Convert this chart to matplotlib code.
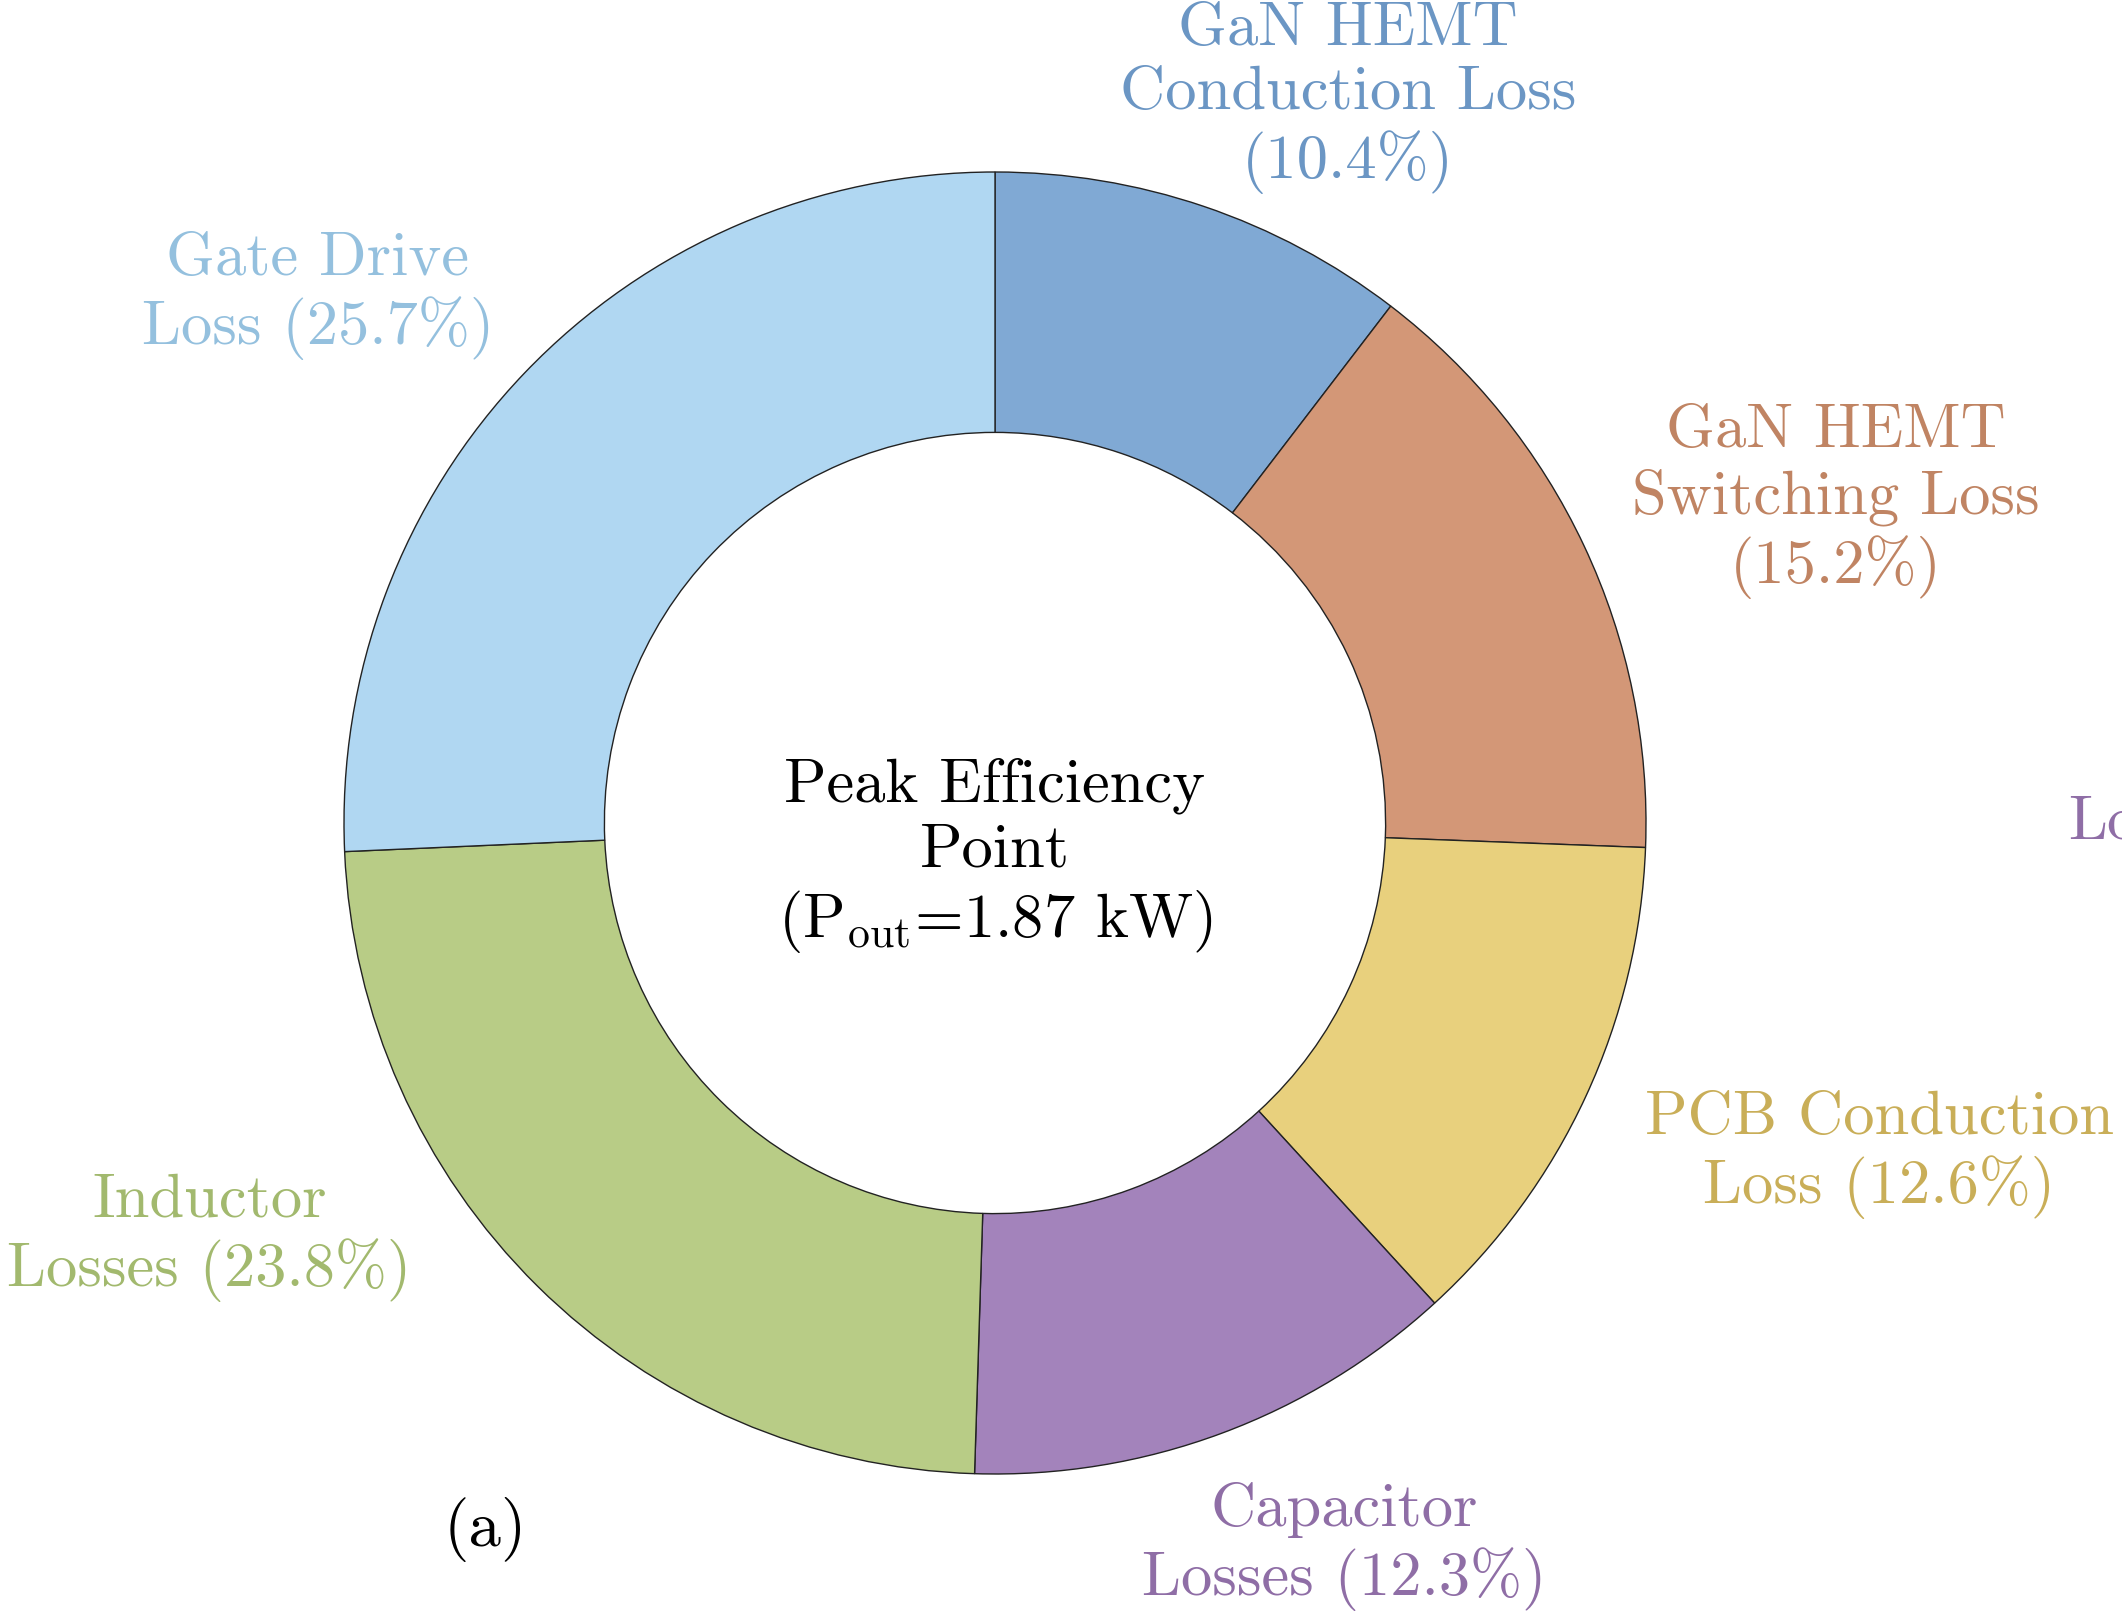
import matplotlib.pyplot as plt

plt.rcParams["font.family"] = ["cmr10", "DejaVu Serif"]
plt.rcParams["mathtext.fontset"] = "cm"
plt.rcParams["axes.formatter.use_mathtext"] = True

# loss breakdown at peak efficiency point, clockwise from top
labels = [
    "GaN HEMT\nConduction Loss",
    "GaN HEMT\nSwitching Loss",
    "PCB Conduction\nLoss",
    "Capacitor\nLosses",
    "Inductor\nLosses",
    "Gate Drive\nLoss",
]
shares = [10.4, 15.2, 12.6, 12.3, 23.8, 25.7]
wedge_colors = ["#80a9d4", "#d39777", "#e8d07d", "#a383bb", "#b8cc86", "#b0d7f2"]
text_colors = ["#6b96c4", "#c08463", "#c9ae58", "#8f6ea6", "#a2b96e", "#94c0de"]

# label anchor points (pie radius = 1)
label_pos = [(0.542, 1.114), (1.292, 0.494), (1.358, -0.510),
             (0.536, -1.111), (-1.207, -0.637), (-1.040, 0.810)]

FS = 45

fig = plt.figure(figsize=(21.22, 16.17), dpi=100)
ax = fig.add_axes([0, 0, 1, 1])

ax.pie(shares, colors=wedge_colors, startangle=90, counterclock=False,
       radius=1.0,
       wedgeprops=dict(width=0.4, edgecolor="#222222", linewidth=1.0))

for lab, val, (x, y), c in zip(labels, shares, label_pos, text_colors):
    if lab.startswith("GaN"):
        txt = f"{lab}\n({val}%)"
    else:
        txt = f"{lab} ({val}%)"
    ax.text(x, y, txt, color=c, fontsize=FS, ha="center", va="center",
            multialignment="center")

ax.text(0, -0.051, "Peak Efficiency\nPoint\n(P$_{\\rm out}$=1.87 kW)",
        fontsize=FS, ha="center", va="center", multialignment="center",
        color="black")

ax.text(-0.783, -1.086, "(a)", fontsize=FS + 2, ha="center", va="center",
        color="black")

# label from the neighbouring panel, cut off at the right edge
ax.text(1.649, 0.0, "Losses", fontsize=FS, ha="left", va="center",
        color="#8f6ea6")

ax.set_xlim(-995 / 651, (2122 - 995) / 651)
ax.set_ylim(-(1617 - 823) / 651, 823 / 651)
ax.set_aspect("auto")
ax.axis("off")

fig.savefig("out.png", dpi=100)
